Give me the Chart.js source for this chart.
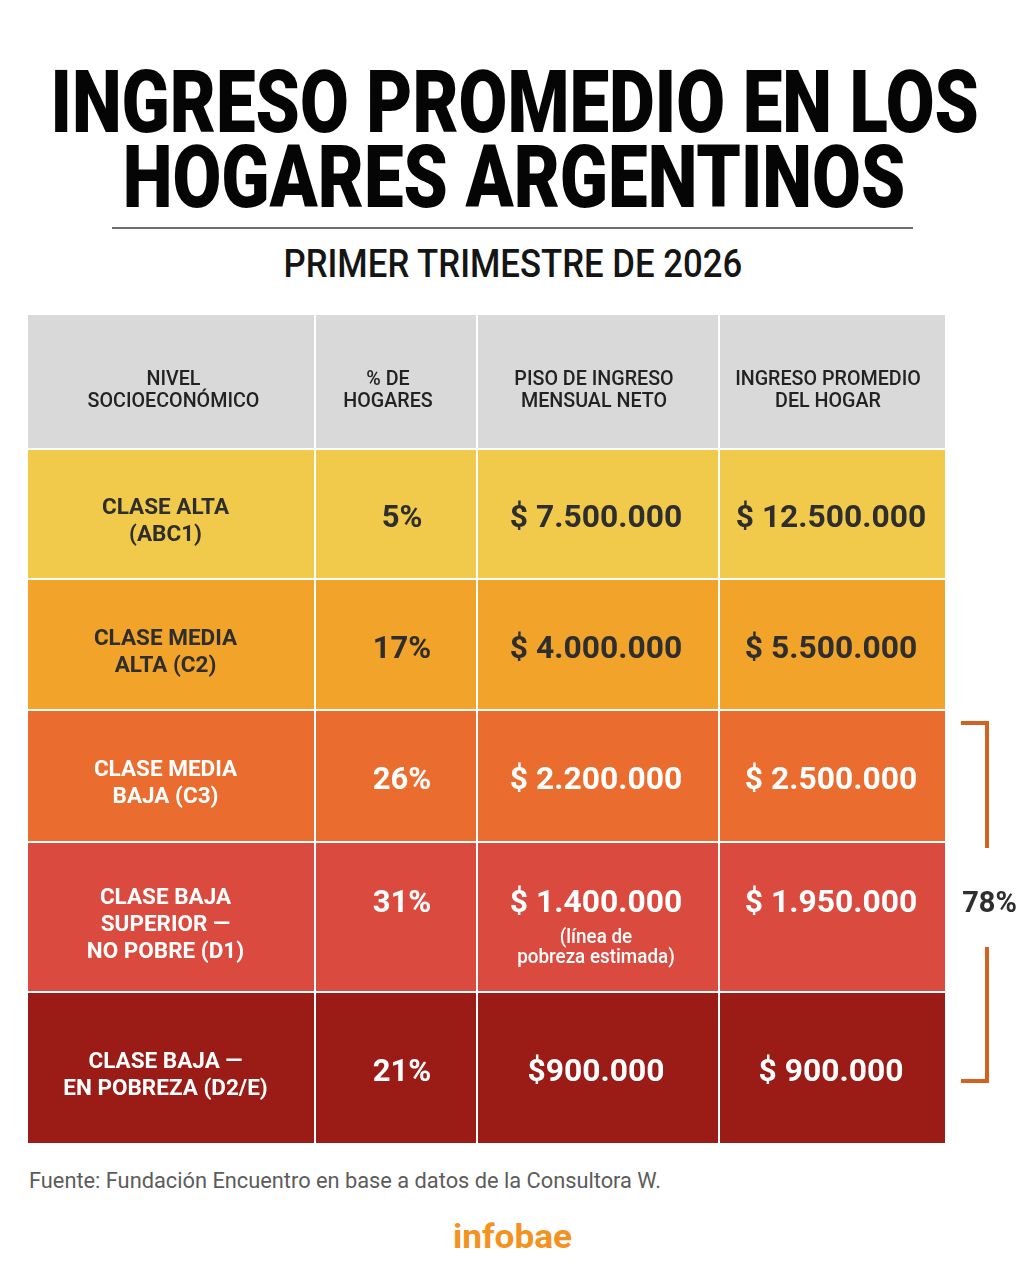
<!DOCTYPE html>
<html lang="es">
<head>
<meta charset="utf-8">
<title>Ingreso promedio en los hogares argentinos</title>
<script src="https://cdn.jsdelivr.net/npm/chart.js"></script>
<style>
  body { margin: 0; background: #fff; }
  #page { position: relative; width: 1024px; height: 1280px; overflow: hidden; font-family: Roboto, "Noto Sans", sans-serif; }
  .txt { position: absolute; white-space: nowrap; line-height: 1; }
  #t1, #t2 { font-size: 87px; font-weight: 900; color: #050505; }
  #t1 { top: 59px; }
  #t2 { top: 134px; }
  #rule { position: absolute; left: 112px; top: 227px; width: 801px; height: 2px; background: #6f6f6f; }
  #sub { top: 245px; font-size: 38px; font-weight: 500; color: #151515; }
  #fuente { left: 29px; top: 1170px; font-size: 21.8px; font-weight: 400; color: #5c5c5c; }
  #logo { top: 1219px; font-size: 34px; font-weight: 700; color: #f4921f; }
  #tabla { position: absolute; left: 28px; top: 315px; }
</style>
</head>
<body>
<div id="page">
  <div class="txt" id="t1">INGRESO PROMEDIO EN LOS</div>
  <div class="txt" id="t2">HOGARES ARGENTINOS</div>
  <div id="rule"></div>
  <div class="txt" id="sub">PRIMER TRIMESTRE DE 2026</div>
  <canvas id="tabla" width="996" height="830"></canvas>
  <div class="txt" id="fuente">Fuente: Fundación Encuentro en base a datos de la Consultora W.</div>
  <div class="txt" id="logo">infobae</div>
</div>
<script>
// datos de la tabla
const encabezados = [
  ['NIVEL', 'SOCIOECONÓMICO'],
  ['% DE', 'HOGARES'],
  ['PISO DE INGRESO', 'MENSUAL NETO'],
  ['INGRESO PROMEDIO', 'DEL HOGAR']
];
const niveles = [
  ['CLASE ALTA', '(ABC1)'],
  ['CLASE MEDIA', 'ALTA (C2)'],
  ['CLASE MEDIA', 'BAJA (C3)'],
  ['CLASE BAJA', 'SUPERIOR —', 'NO POBRE (D1)'],
  ['CLASE BAJA —', 'EN POBREZA (D2/E)']
];
const pctHogares = [5, 17, 26, 31, 21];
const pisoIngreso = [7500000, 4000000, 2200000, 1400000, 900000];
const ingresoPromedio = [12500000, 5500000, 2500000, 1950000, 900000];
const notasPiso = [null, null, null, ['(línea de', 'pobreza estimada)'], null];
const pisoSinEspacio = [false, false, false, false, true];
const filasLlave = [2, 3, 4]; // C3 + D1 + D2/E

// layout (unidades = px dentro del lienzo)
const colEdges = [0, 287, 449, 691, 917];
const rowEdges = [0, 134, 264, 395, 527, 677, 828];
const gap = 2;
const headerColor = '#d9d9d9';
const rowColors = ['#f2ca4b', '#f2a32a', '#ea6c2e', '#da4a3e', '#9b1b17'];
const rowText = ['#2e2e2e', '#2e2e2e', '#ffffff', '#ffffff', '#ffffff'];
const headDx = [2, -8, -4, -4];
const bodyDx = [-6, 6, -2, -1];
const bracketColor = '#d6601e';

function pesos(v, sinEspacio) {
  return '$' + (sinEspacio ? '' : ' ') + String(v).replace(/\B(?=(\d{3})+(?!\d))/g, '.');
}

function edge(arr, i, side) {
  // side 0 = start, 1 = end; internal edges leave a white gap
  const v = arr[i];
  if (i === 0 || i === arr.length - 1) return v;
  return side === 0 ? v + gap / 2 : v - gap / 2;
}

const datasets = [];
for (let r = 0; r < rowEdges.length - 1; r++) {
  for (let c = 0; c < colEdges.length - 1; c++) {
    const x0 = edge(colEdges, c, 0), x1 = edge(colEdges, c + 1, 1);
    const y0 = edge(rowEdges, r, 0), y1 = edge(rowEdges, r + 1, 1);
    datasets.push({
      type: 'line',
      data: [{x: x0, y: y0}, {x: x1, y: y0}],
      fill: {value: y1},
      backgroundColor: r === 0 ? headerColor : rowColors[r - 1],
      borderColor: 'transparent',
      borderWidth: 0,
      pointRadius: 0,
      showLine: true
    });
  }
}

// llave que agrupa C3, D1 y D2/E
const llaveTop = rowEdges[filasLlave[0] + 1] + 13;
const llaveBottom = rowEdges[filasLlave[filasLlave.length - 1] + 2] - 62;
const llaveMid = (llaveTop + llaveBottom) / 2;
const llaveX0 = 933, llaveX1 = 959;
const lineaLlave = {
  type: 'line',
  borderColor: bracketColor,
  borderWidth: 4,
  borderCapStyle: 'butt',
  borderJoinStyle: 'miter',
  pointRadius: 0,
  showLine: true,
  fill: false
};
datasets.push(Object.assign({}, lineaLlave, {
  data: [{x: llaveX0, y: llaveTop}, {x: llaveX1, y: llaveTop}, {x: llaveX1, y: llaveMid - 54}]
}));
datasets.push(Object.assign({}, lineaLlave, {
  data: [{x: llaveX1, y: llaveMid + 45}, {x: llaveX1, y: llaveBottom}, {x: llaveX0, y: llaveBottom}]
}));

function texto(ctx, t, cx, cy, size, weight, color, sx) {
  ctx.save();
  ctx.font = weight + ' ' + size + 'px Roboto, "Noto Sans", sans-serif';
  ctx.fillStyle = color;
  ctx.textAlign = 'center';
  ctx.textBaseline = 'alphabetic';
  ctx.translate(cx, cy + 0.355 * size);
  ctx.scale(sx || 1, 1);
  ctx.fillText(t, 0, 0);
  ctx.restore();
}

const textosTabla = {
  id: 'textosTabla',
  afterDatasetsDraw(chart) {
    const {ctx, scales: {x, y}} = chart;
    const colCenter = c => (colEdges[c] + colEdges[c + 1]) / 2;

    // encabezado
    const hy = (rowEdges[0] + rowEdges[1]) / 2 + 7;
    encabezados.forEach((lines, c) => {
      lines.forEach((l, i) => {
        const ly = hy + (i - (lines.length - 1) / 2) * 22;
        texto(ctx, l, x.getPixelForValue(colCenter(c) + headDx[c]), y.getPixelForValue(ly), 19.7, 500, '#222', 1);
      });
    });

    // filas
    niveles.forEach((lines, r) => {
      const rc = (rowEdges[r + 1] + rowEdges[r + 2]) / 2;
      const color = rowText[r];
      const lc = rc + 6;
      lines.forEach((l, i) => {
        const ly = lc + (i - (lines.length - 1) / 2) * 27;
        texto(ctx, l, x.getPixelForValue(colCenter(0) + bodyDx[0]), y.getPixelForValue(ly), 22.5, 700, color, 1);
      });
      const nota = notasPiso[r];
      const vy = nota ? rc - 16 : rc + 2;
      const vals = [
        pctHogares[r] + '%',
        pesos(pisoIngreso[r], pisoSinEspacio[r]),
        pesos(ingresoPromedio[r], false)
      ];
      vals.forEach((v, k) => {
        const c = k + 1;
        texto(ctx, v, x.getPixelForValue(colCenter(c) + bodyDx[c]), y.getPixelForValue(vy), k === 0 ? 31 : 31.8, 700, color, 1);
      });
      if (nota) {
        nota.forEach((l, i) => {
          texto(ctx, l, x.getPixelForValue(colCenter(2) + bodyDx[2]), y.getPixelForValue(rc + 19 + i * 20), 20.5, 500, color, 0.92);
        });
      }
    });

    // total de la llave
    const total = filasLlave.reduce((s, r) => s + pctHogares[r], 0);
    texto(ctx, total + '%', x.getPixelForValue(961.5), y.getPixelForValue(llaveMid), 29, 700, '#2e2e2e', 1);
  }
};

new Chart(document.getElementById('tabla'), {
  type: 'scatter',
  data: {datasets: datasets},
  options: {
    responsive: false,
    animation: false,
    events: [],
    layout: {padding: 0},
    plugins: {
      legend: {display: false},
      tooltip: {enabled: false},
      title: {display: false}
    },
    scales: {
      x: {type: 'linear', min: 0, max: 996, display: false},
      y: {type: 'linear', min: 0, max: 830, reverse: true, display: false}
    }
  },
  plugins: [textosTabla]
});

// ajustar textos HTML al ancho del original
function ajustar(el, ancho, cx, s) {
  const w = el.offsetWidth;
  const k = s || ancho / w;
  el.style.left = (cx - w / 2) + 'px';
  el.style.transformOrigin = 'center top';
  el.style.transform = 'scaleX(' + k + ')';
  return k;
}
const k1 = ajustar(document.getElementById('t1'), 928, 514);
ajustar(document.getElementById('t2'), 0, 514, k1);
ajustar(document.getElementById('sub'), 459, 512.5);
ajustar(document.getElementById('logo'), 119, 512.5);
</script>
</body>
</html>
